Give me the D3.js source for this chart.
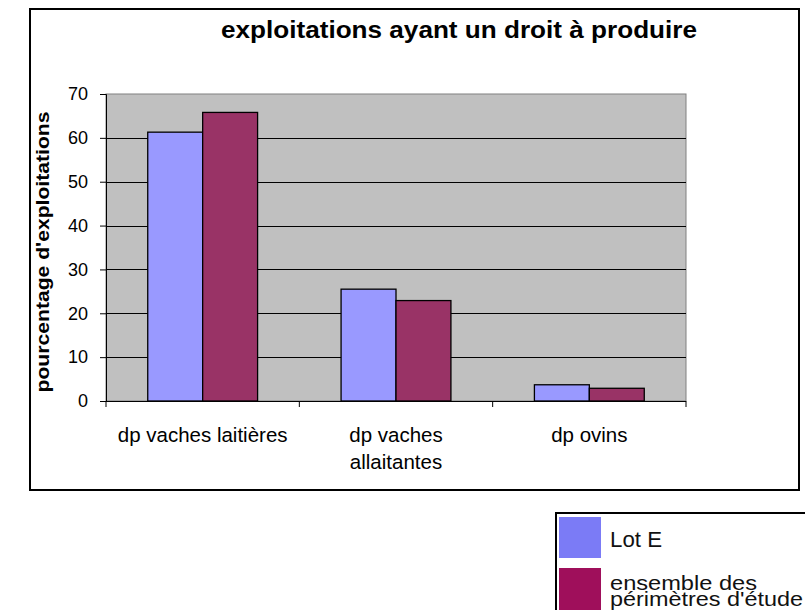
<!DOCTYPE html>
<html>
<head>
<meta charset="utf-8">
<script src="https://cdn.jsdelivr.net/npm/d3@7"></script>
<style>
  html, body { margin: 0; padding: 0; background: #fff; }
  svg { display: block; font-family: "Liberation Sans", Arial, sans-serif; }
</style>
</head>
<body>
<svg id="chart" width="805" height="610"></svg>
<script>
const categories = [["dp vaches laitières"], ["dp vaches", "allaitantes"], ["dp ovins"]];
const seriesNames = ["Lot E", "ensemble des périmètres d'étude"];
const lotE = [61.3, 25.5, 3.7];
const ensemble = [65.8, 22.9, 2.9];
const yTicks = [0, 10, 20, 30, 40, 50, 60, 70];
const title = "exploitations ayant un droit à produire";
const yTitle = "pourcentage d'exploitations";
const barColors = ["#9999ff", "#993366"];
const legendColors = ["#7b7bf6", "#9f0f5b"];

const svg = d3.select("#chart");

// outer frame
svg.append("rect").attr("x", 30).attr("y", 9).attr("width", 769).attr("height", 481)
  .attr("fill", "#fff").attr("stroke", "#000").attr("stroke-width", 2);

const plot = {left: 106, right: 686, top: 94, bottom: 401};
const catIdx = categories.map((d, i) => i);
const x0 = d3.scaleBand().domain(catIdx).range([plot.left, plot.right]).padding(0);
const x1 = d3.scaleBand().domain([0, 1]).range([0, x0.bandwidth()]).paddingInner(0).paddingOuter(0.76);
const y = d3.scaleLinear().domain([0, 70]).range([plot.bottom, plot.top]);

// plot background
svg.append("rect").attr("x", plot.left).attr("y", plot.top)
  .attr("width", plot.right - plot.left).attr("height", plot.bottom - plot.top)
  .attr("fill", "#c0c0c0").attr("stroke", "#808080").attr("stroke-width", 1);

// gridlines
svg.append("g").selectAll("line").data(yTicks.filter(t => t > 0 && t < 70)).join("line")
  .attr("x1", plot.left).attr("x2", plot.right)
  .attr("y1", d => Math.round(y(d)) + 0.5).attr("y2", d => Math.round(y(d)) + 0.5)
  .attr("stroke", "#000").attr("stroke-width", 1);

// bars
const data = [lotE, ensemble];
const g = svg.append("g");
catIdx.forEach(ci => {
  [0, 1].forEach(si => {
    g.append("rect")
      .attr("x", x0(ci) + x1(si))
      .attr("y", y(data[si][ci]))
      .attr("width", x1.bandwidth())
      .attr("height", y(0) - y(data[si][ci]))
      .attr("fill", barColors[si]).attr("stroke", "#000").attr("stroke-width", 1.3);
  });
});

// y axis
const yAxis = d3.axisLeft(y).tickValues(yTicks).tickSize(6).tickPadding(12);
const ya = svg.append("g").attr("transform", `translate(${plot.left},0)`).call(yAxis);
ya.select(".domain").attr("stroke", "#000");
ya.selectAll(".tick line").attr("stroke", "#000");
ya.selectAll(".tick text").attr("font-size", 18).attr("fill", "#000")
  .attr("font-family", "'Liberation Sans', Arial, sans-serif");

// x axis
const xa = svg.append("g").attr("transform", `translate(0,${plot.bottom})`);
xa.append("line").attr("x1", plot.left).attr("x2", plot.right).attr("y1", 0.5).attr("y2", 0.5).attr("stroke", "#000");
const bounds = catIdx.map(i => x0(i)).concat([plot.right]);
xa.selectAll("line.tk").data(bounds).join("line").attr("class", "tk")
  .attr("x1", d => d).attr("x2", d => d).attr("y1", 0).attr("y2", 6).attr("stroke", "#000");
catIdx.forEach(ci => {
  const cx = x0(ci) + x0.bandwidth() / 2;
  const t = xa.append("text").attr("text-anchor", "middle").attr("font-size", 20.5).attr("fill", "#000")
    .attr("x", cx).attr("y", 41);
  categories[ci].forEach((line, li) => {
    t.append("tspan").attr("x", cx).attr("dy", li === 0 ? 0 : 27).text(line);
  });
});

// title
svg.append("text").attr("x", 459).attr("y", 38).attr("text-anchor", "middle")
  .attr("font-size", 24).attr("font-weight", "bold").attr("fill", "#000")
  .attr("textLength", 476).attr("lengthAdjust", "spacingAndGlyphs").text(title);

// y title
svg.append("text").attr("transform", "translate(49,252) rotate(-90)").attr("text-anchor", "middle")
  .attr("font-size", 18).attr("font-weight", "bold").attr("fill", "#000")
  .attr("textLength", 281).attr("lengthAdjust", "spacingAndGlyphs").text(yTitle);

// legend
const lg = svg.append("g");
lg.append("rect").attr("x", 556).attr("y", 513).attr("width", 260).attr("height", 110)
  .attr("fill", "#fff").attr("stroke", "#000").attr("stroke-width", 2);
lg.append("rect").attr("x", 559).attr("y", 517).attr("width", 42).attr("height", 41).attr("fill", legendColors[0]);
lg.append("rect").attr("x", 559).attr("y", 568).attr("width", 42).attr("height", 50).attr("fill", legendColors[1]);
lg.append("text").attr("x", 610).attr("y", 547).attr("font-size", 22).attr("fill", "#111")
  .attr("textLength", 52).attr("lengthAdjust", "spacingAndGlyphs").text(seriesNames[0]);
lg.append("text").attr("x", 610).attr("y", 590).attr("font-size", 20).attr("fill", "#111")
  .attr("textLength", 147).attr("lengthAdjust", "spacingAndGlyphs").text("ensemble des");
lg.append("text").attr("x", 610).attr("y", 606).attr("font-size", 20).attr("fill", "#111")
  .attr("textLength", 193).attr("lengthAdjust", "spacingAndGlyphs").text("périmètres d'étude");
</script>
</body>
</html>
